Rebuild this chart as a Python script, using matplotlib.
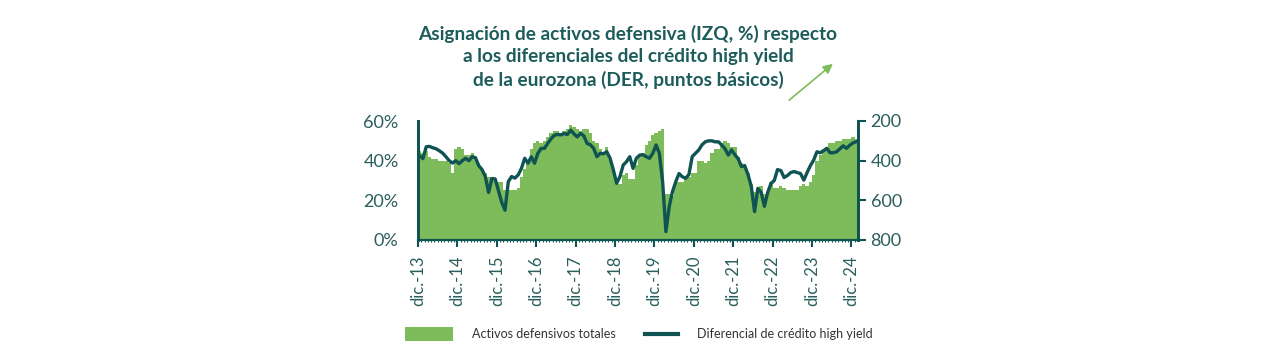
import matplotlib
matplotlib.use("Agg")
import matplotlib.pyplot as plt
import numpy as np
from matplotlib.patches import Rectangle
from matplotlib.lines import Line2D

# Monthly data, dic.-13 .. ene.-25
defensive_pct = [
    45, 44, 45, 42, 41, 41, 40, 40, 40, 39, 34, 46,   # dic13 - nov14
    47, 46, 43, 43, 44, 42, 38, 36, 34, 32, 32, 30,   # dic14 - nov15
    29, 29, 25, 25, 25, 25, 26, 32, 36, 40, 46, 49,   # dic15 - nov16
    50, 49, 50, 52, 54, 55, 55, 54, 55, 56, 58, 57,   # dic16 - nov17
    56, 55, 56, 56, 54, 50, 49, 46, 44, 47, 41, 36,   # dic17 - nov18
    29, 28, 33, 34, 31, 31, 38, 43, 44, 48, 50, 53,   # dic18 - nov19
    54, 55, 56, 23, 23, 22, 29, 29, 29, 32, 32, 34,   # dic19 - nov20
    34, 40, 40, 39, 40, 44, 46, 46, 49, 50, 49, 47,   # dic20 - nov21
    47, 42, 39, 38, 34, 28, 24, 24, 27, 23, 24, 29,   # dic21 - nov22
    26, 26, 27, 26, 25, 25, 25, 25, 27, 28, 27, 29,   # dic22 - nov23
    33, 40, 43, 46, 47, 49, 49, 50, 50, 51, 51, 51,   # dic23 - nov24
    52, 51,                                           # dic24 - ene25
]

hy_spread_bp = [
    375, 390, 330, 328, 335, 340, 350, 362, 380, 400, 412, 400,
    415, 400, 388, 400, 380, 385, 425, 445, 480, 560, 490, 492,
    550, 610, 650, 506, 480, 488, 472, 439, 388, 413, 380, 413,
    363, 338, 338, 313, 290, 272, 268, 270, 263, 268, 246, 265,
    280, 262, 275, 313, 320, 338, 380, 363, 365, 355, 388, 447,
    514, 480, 422, 405, 380, 439, 388, 372, 370, 380, 388, 363,
    321, 363, 506, 758, 632, 556, 506, 465, 481, 489, 470, 380,
    363, 346, 320, 305, 300, 300, 305, 305, 321, 340, 372, 346,
    370, 390, 430, 425, 470, 530, 657, 540, 560, 630, 560, 515,
    500, 445, 450, 485, 475, 460, 455, 460, 465, 498, 460, 425,
    397, 355, 360, 350, 338, 360, 360, 355, 340, 325, 338, 322,
    310, 304,
]

year_labels = ["dic.-13", "dic.-14", "dic.-15", "dic.-16", "dic.-17", "dic.-18",
               "dic.-19", "dic.-20", "dic.-21", "dic.-22", "dic.-23", "dic.-24"]
left_ticks = [0, 20, 40, 60]
right_ticks = [200, 400, 600, 800]

title = ("Asignación de activos defensiva (IZQ, %) respecto\n"
         "a los diferenciales del crédito high yield\n"
         "de la eurozona (DER, puntos básicos)")

GREEN = "#7dbb5b"
TEAL = "#0f5352"
TXT = "#2a5f5e"

plt.rcParams['font.family'] = ['Lato', 'DejaVu Sans']

fig = plt.figure(figsize=(12.8, 3.49), dpi=100)
ax = fig.add_axes([418/1280, 1-240/349, (858-418)/1280, (240-121)/349])
ax2 = ax.twinx()

n = len(defensive_pct)
months = np.arange(n)
ax.bar(months, defensive_pct, width=1.0, align='edge', color=GREEN, linewidth=0)
ax.set_ylim(0, 60)
ax.set_xlim(0, n)
ax.set_yticks(left_ticks)
ax.set_yticklabels([f"{v}%" for v in left_ticks], fontsize=13, color=TXT)
ax.tick_params(axis='y', length=0, pad=14)
ax.set_xticks(np.arange(0, n, 12))
ax.set_xticklabels(year_labels, rotation=90, fontsize=12, color=TXT)
ax.set_xticks(np.arange(0, n), minor=True)
ax.tick_params(axis='x', which='major', length=5, width=1.5, color=TEAL, pad=6)
ax.tick_params(axis='x', which='minor', length=1.5, width=0.8, color=TEAL)

ax2.plot(months + 0.5, hy_spread_bp, color=TEAL, linewidth=2.4, solid_joinstyle='round')
ax2.set_ylim(800, 200)
ax2.set_yticks(right_ticks)
ax2.set_yticklabels([str(v) for v in right_ticks], fontsize=13, color=TXT)
ax2.tick_params(axis='y', length=6, width=1.5, color=TEAL, pad=3)

for a in (ax, ax2):
    a.spines['top'].set_visible(False)
    a.spines['left'].set_color(TEAL)
    a.spines['left'].set_linewidth(2)
    a.spines['right'].set_color(TEAL)
    a.spines['right'].set_linewidth(2)
    a.spines['bottom'].set_color(TEAL)
    a.spines['bottom'].set_linewidth(1.5)

fig.text(628/1280, 1-57/349, title, ha='center', va='center', fontsize=13.7,
         fontweight='bold', color="#1d5c5b", linespacing=1.4)

# decorative arrow
fig.add_artist(matplotlib.patches.FancyArrowPatch(
    (787/1280, 1-102/349), (835/1280, 1-62/349), transform=fig.transFigure,
    arrowstyle='-|>', mutation_scale=14, color=GREEN, linewidth=1.2))

# legend
fig.add_artist(Rectangle((405/1280, 1-341/349), 48/1280, 14/349,
                         transform=fig.transFigure, color=GREEN, linewidth=0))
fig.text(472/1280, 1-334/349, "Activos defensivos totales", ha='left', va='center',
         fontsize=9, color="#333333")
fig.add_artist(Line2D([645/1280, 678/1280], [1-334/349, 1-334/349],
                      transform=fig.transFigure, color=TEAL, linewidth=3))
fig.text(697/1280, 1-334/349, "Diferencial de crédito high yield", ha='left', va='center',
         fontsize=9, color="#333333")

fig.savefig("out.png", dpi=100)
